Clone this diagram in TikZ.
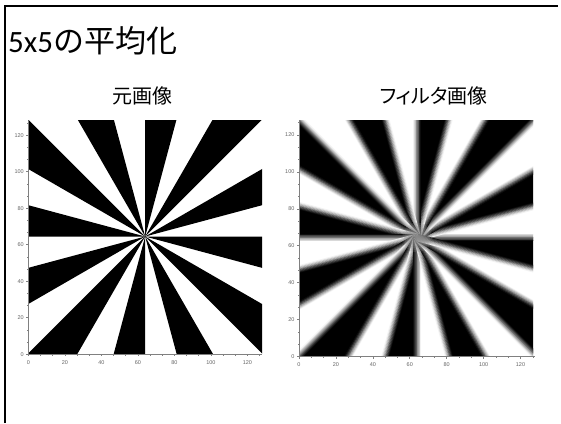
\documentclass[tikz,border=0pt]{standalone}
\usepackage{fontspec}
\newfontfamily\jp{Noto Sans CJK JP}
\newfontfamily\jpp[RawFeature=+palt]{Noto Sans CJK JP}
\newfontfamily\lat{Carlito}
\newfontfamily\tk{Liberation Sans}
\tikzset{
  frameline/.style={line width=2pt, black},
  axisline/.style={line width=0.6pt, black!50},
  ticklab/.style={font=\tk\fontsize{5.5}{6}\selectfont, text=black!60, inner sep=0pt},
  titletext/.style={font=\fontsize{31}{34}\selectfont, inner sep=0pt, anchor=base west},
  subtext/.style={font=\jp\fontsize{20}{22}\selectfont, inner sep=0pt, anchor=base},
}
\newcommand\myaxes[1]{%
  \draw[axisline] (0,128) -- (0,0) -- (128,0);
  \foreach \m in {0,...,19}{%
    \draw[axisline] ({\m*20/3},0) -- ++(0,-0.7);
    \draw[axisline] (0,{\m*20/3}) -- ++(-0.7,0);
  }
  \foreach \v in {0,20,...,120}{%
    \draw[axisline] (\v,0) -- ++(0,-1.2);
    \draw[axisline] (0,\v) -- ++(-1.2,0);
    \node[ticklab] (#1x\v) at (\v,-4.3) {\v};
    \node[ticklab, anchor=east] (#1y\v) at (-2.4,\v) {\v};
  }%
}
\begin{document}
\begin{tikzpicture}[x=1pt,y=-1pt]
\useasboundingbox (0,0) rectangle (561,423);
\fill[white] (0,0) rectangle (561,423);
\draw[frameline] (5,423) -- (5,6) -- (558,6);
\node[titletext] (ttl) at (8,52) {\lat 5x5\jp の平均化};
\node[subtext] (sub1) at (142.2,103.6) {元画像};
\node[subtext, font=\jpp\fontsize{20}{22}\selectfont] (sub2) at (433.5,103.6) {フィルタ画像};

% original image
\begin{scope}[shift={(28.3,354.3)}, x=1.826pt, y=1.826pt]
  \begin{scope}
    \clip (0,0) rectangle (128,128);
    \foreach \k in {0,...,11}
      \fill[black] (64,64.5) -- +({15+30*\k}:300) -- +({30+30*\k}:300) -- cycle;
  \end{scope}
  \myaxes{L}
\end{scope}

% filtered image
\begin{scope}[shift={(299,356.5)}, x=1.846pt, y=1.846pt]
  \begin{scope}
    \clip (0,0) rectangle (126.8,128);
    \foreach \k in {0,...,11}
      \fill[black] (64,64.5) -- +({15+30*\k}:300) -- +({30+30*\k}:300) -- cycle;
    \foreach \j in {0,...,23}{%
      \pgfmathsetmacro\b{15*\j}
      \foreach \i in {0,...,9}{%
        \pgfmathsetmacro\dd{-2+0.4*\i}
        \pgfmathtruncatemacro\pc{mod(\j,2)==0 ? 5+10*\i : 95-10*\i}
        \fill[black!\pc, shift={(64,64.5)}] ({\b-90}:\dd) -- ++(\b:200) -- ++({\b-90}:0.45) -- ++({\b+180}:200) -- cycle;
      }
    }
    \foreach \r in {8,7,...,1}
      \fill[black!45, opacity=0.25] (64,64.5) circle (\r);
  \end{scope}
  \myaxes{R}
\end{scope}
\end{tikzpicture}
\end{document}
